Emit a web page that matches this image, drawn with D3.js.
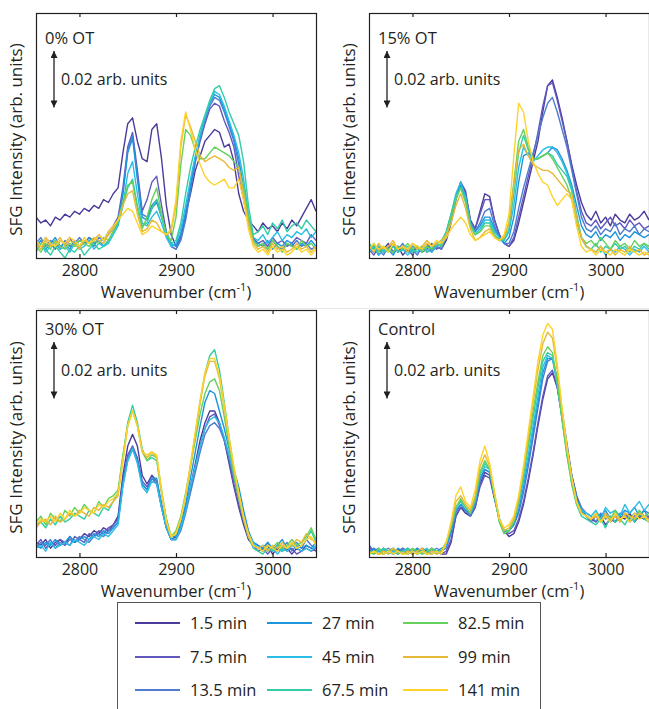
<!DOCTYPE html>
<html>
<head>
<meta charset="utf-8">
<script src="https://cdn.jsdelivr.net/npm/d3@7"></script>
<style>
  body { margin: 0; background: #fff; }
  svg { display: block; }
  text { font-family: "Open Sans", sans-serif; fill: #231f20; }
</style>
</head>
<body>
<script>
// x grid of the spectra (cm-1)
const wavenumbers = [2755,2760,2765,2770,2775,2780,2785,2790,2795,2800,2805,2810,2815,2820,2825,2830,2835,2840,
  2845,2850,2855,2860,2865,2870,2875,2880,2885,2890,2895,2900,2905,2910,2915,2920,2925,2930,2935,2940,2945,2950,
  2955,2960,2965,2970,2975,2980,2985,2990,2995,3000,3005,3010,3015,3020,3025,3030,3035,3040,3045];

const times = ["1.5 min", "7.5 min", "13.5 min", "27 min", "45 min", "67.5 min", "82.5 min", "99 min", "141 min"];
const colors = ["#4b3b9c", "#6158bd", "#4f7ccf", "#1d95dc", "#2bbde6", "#33cca6", "#66d15c", "#e6b938", "#fdd32b"];
const xTicks = [2800, 2900, 3000];
const panelNames = ["0% OT", "15% OT", "30% OT", "Control"];
const scaleBar = 20; // 0.02 arb. units, values below are in 1e-3 arb. units

// SFG intensity (1e-3 arb. units), one row per time
const ot0 = [
  [14,12,13,11,14,13,15,14,16,15,17,16,18,17,20,19,22,24, 36,46,48,40,34,33,44,46,34,18,8,4,8,15,22,30,35,40,42,44,43,38,39,33,22,16,13,11, 9,12,10,11,9,12,10,13,11,14,17,20,16],
  [6,4,7,5,3,6,5,7,4,6,5,7,6,8,6,9,11,14, 24,38,43,30,16,20,26,28,18,9,4,3,7,14,24,33,40,46,51,53,52,47,43,38,28,20,12,7, 5,6,4,7,5,6,4,5,7,6,5,8,6],
  [5,7,4,6,5,3,6,4,5,7,5,6,4,7,6,8,10,13, 22,37,42,28,15,14,18,20,15,8,4,3,6,13,23,33,41,47,52,55,54,50,45,40,32,22,12,6, 4,5,3,6,4,3,5,4,6,4,5,3,4],
  [4,6,3,5,7,4,5,3,6,4,5,7,5,6,4,6,9,12, 22,36,41,27,14,13,17,19,14,9,5,4,8,16,25,34,42,48,53,56,55,51,46,41,34,24,13,6, 5,4,6,3,5,4,6,5,3,5,4,6,4],
  [3,5,2,4,6,3,4,2,5,3,4,6,3,5,4,5,8,11, 18,29,33,22,12,11,14,16,12,7,4,5,10,18,27,35,42,48,53,57,56,52,47,42,36,27,15,7, 6,8,5,7,9,6,8,7,9,8,10,7,9],
  [2,5,3,1,4,2,0,3,2,4,1,3,5,3,4,6,9,12, 18,24,27,18,11,12,17,20,14,8,5,6,12,22,31,38,44,49,54,58,59,55,50,46,42,33,18,8, 9,11,8,12,10,13,9,11,12,10,13,11,9],
  [4,2,5,3,6,4,3,5,4,6,5,4,6,5,7,6,9,13, 19,25,26,17,10,14,20,24,15,8,6,14,32,44,42,37,34,34,36,38,37,36,35,33,31,24,14,6, 4,5,3,6,4,2,5,4,3,6,4,5,3],
  [5,3,6,4,5,7,4,6,5,3,6,5,7,6,5,8,10,13, 18,22,23,15,9,10,13,12,9,8,9,18,38,49,45,40,35,33,34,35,34,33,31,30,31,22,12,5, 3,4,2,5,3,4,2,3,5,3,4,2,4],
  [6,4,7,5,4,6,5,7,6,4,7,5,6,8,6,9,11,13, 15,17,16,12,8,9,11,10,9,8,10,20,40,50,44,37,32,28,26,25,26,27,24,24,27,20,10,4, 2,3,1,4,2,3,1,2,4,2,3,1,3]
];

const ot15 = [
  [2,4,1,3,5,2,4,1,3,2,4,3,5,2,4,3, 6,12,20,26,22,13,10,16,22,21,13,8,5,4,6,12,19,26,33,40,50,59,61,55,48,40,32,25,19,15, 13,16,12,14,11,15,13,12,15,13,14,16,13],
  [3,1,4,2,3,5,2,4,3,1,4,2,3,5,3,4, 7,13,21,26,23,13,10,15,20,20,13,8,5,4,7,14,21,28,35,43,52,59,60,54,47,40,31,23,16,12, 11,13,10,12,14,11,12,10,13,11,12,10,11],
  [2,4,3,1,4,2,3,5,2,3,1,4,2,3,4,3, 7,13,20,25,21,12,9,12,16,17,11,7,5,5,9,17,24,30,36,42,48,53,55,50,44,38,30,22,14,10, 9,11,8,10,9,12,8,10,9,11,8,10,9],
  [3,2,4,2,3,1,4,3,2,4,3,2,4,3,5,4, 8,14,21,25,21,12,9,11,14,14,10,7,5,7,14,26,35,36,34,34,35,36,38,37,34,30,25,18,11,8, 7,9,6,8,7,9,6,8,7,9,8,7,8],
  [2,4,1,3,2,4,2,3,1,3,2,4,3,2,4,5, 9,15,22,26,21,12,8,10,13,13,9,7,6,9,18,31,38,35,33,35,37,38,38,36,33,29,24,15,7,4, 3,2,4,1,3,2,4,3,1,3,2,4,2],
  [5,3,4,2,3,4,2,3,4,2,3,4,2,4,5,6, 9,15,21,24,20,11,8,9,12,12,8,6,6,10,22,36,42,37,34,34,35,36,35,32,30,28,23,14,7,4, 3,5,2,4,3,5,3,4,2,4,3,5,3],
  [3,5,2,4,3,2,4,3,5,3,4,2,4,3,5,4, 8,14,20,24,19,11,8,9,11,11,8,6,7,12,26,40,44,38,34,34,35,36,34,31,28,25,20,12,7,5, 6,4,7,5,3,6,4,5,3,6,4,5,4],
  [4,2,5,3,4,6,3,4,2,5,3,4,6,4,5,6, 8,12,18,22,17,10,6,7,9,10,7,6,7,12,25,37,39,35,32,31,30,30,29,27,25,23,22,14,7,4, 3,2,4,2,3,1,3,2,4,2,3,1,2],
  [3,5,3,4,2,5,3,4,3,5,4,3,5,4,6,5, 7,10,12,14,12,8,6,7,8,9,7,6,8,15,35,53,50,40,33,29,26,25,21,18,20,22,20,11,4,2, 3,1,3,2,1,3,2,1,3,2,1,2,1]
];

const ot30 = [
  [5,4,6,3,5,6,4,7,5,6,8,7,9,8,10,9,11,14, 28,38,42,38,28,25,28,26,18,10,6,7,11,17,24,32,40,46,50,50,46,40,32,24,17,11,6,4, 3,2,4,1,3,2,3,1,3,2,4,3,2],
  [4,6,3,5,4,6,5,4,7,6,5,8,7,9,8,10,11,13, 26,35,38,34,26,24,27,25,17,10,6,6,10,16,23,31,38,44,48,49,45,40,33,25,18,12,7,4, 2,3,1,3,2,4,2,3,1,2,3,2,3],
  [3,5,4,6,3,5,4,6,5,7,6,5,7,8,7,9,10,12, 25,34,38,33,25,23,27,26,17,10,6,6,9,15,22,29,36,42,45,46,44,40,34,27,20,13,8,5, 4,3,5,2,4,3,5,2,4,3,6,4,3],
  [4,3,5,4,6,4,5,7,5,6,7,6,8,7,9,8,10,12, 25,33,37,33,25,23,27,27,18,11,7,7,11,18,27,36,45,53,57,56,50,44,37,30,24,16,9,5, 4,3,5,3,4,6,3,4,5,3,4,3,5],
  [3,4,2,5,3,4,5,4,6,5,4,6,7,6,8,7,9,11, 24,33,37,32,24,22,26,25,17,10,6,6,10,16,24,31,38,44,47,48,46,41,35,28,21,14,8,5, 3,4,2,3,1,3,2,4,3,2,3,2,4],
  [11,12,10,13,11,14,12,13,15,14,13,16,15,14,17,16,19,22, 34,46,52,46,37,33,34,33,22,13,7,8,13,21,31,42,53,63,69,71,64,53,41,30,21,13,7,3, 2,1,3,2,4,2,3,5,3,4,6,9,5],
  [12,14,11,15,13,12,16,14,17,15,18,16,15,19,17,20,21,23, 35,45,50,45,36,33,35,34,23,13,7,9,14,22,31,40,49,56,60,61,57,48,38,28,20,13,7,4, 3,2,4,3,5,3,4,6,4,5,7,10,6],
  [10,12,13,11,14,12,13,15,14,16,15,14,17,16,18,17,19,21, 33,45,50,45,36,34,36,34,22,12,7,8,13,21,31,42,53,62,67,67,61,51,40,30,21,13,7,4, 3,4,2,4,3,5,3,4,6,5,8,6,5],
  [11,13,12,14,12,15,13,16,14,15,17,16,15,18,17,19,20,22, 33,45,50,45,36,35,36,35,23,12,7,8,13,21,32,43,54,63,68,68,62,52,41,31,22,14,8,4, 3,2,4,3,2,4,3,5,3,4,6,7,4]
];

const control = [
  [3,2,1,3,2,1,2,3,1,2,1,3,2,1,2,1, 1,5,14,17,15,14,17,25,29,28,20,13,9,7,8,12,18,26,35,45,54,61,63,58,48,38,28,21,16,14, 13,12,14,11,13,12,14,13,15,12,14,13,14],
  [4,2,3,1,2,3,1,2,3,1,2,2,1,3,2,1, 2,6,14,17,16,14,17,24,28,27,20,13,9,8,9,13,19,27,36,46,55,62,64,58,48,37,27,20,16,14, 12,14,13,15,12,14,13,15,12,14,15,13,14],
  [2,3,1,2,3,2,1,3,2,1,3,2,1,2,3,2, 3,8,15,18,16,14,18,26,30,29,21,13,9,9,11,15,22,31,41,51,61,67,68,61,50,39,28,21,17,15, 14,12,15,13,14,12,15,14,13,15,14,16,13],
  [1,3,2,1,2,1,3,2,1,2,3,1,2,1,2,3, 4,9,16,18,16,15,19,27,30,29,21,13,9,9,11,16,24,33,43,53,63,68,68,60,49,38,27,20,16,14, 13,15,14,16,13,15,14,16,15,17,14,16,15],
  [2,1,2,3,1,2,1,2,3,2,1,2,3,1,2,2, 4,10,17,19,17,15,19,28,31,30,21,13,9,9,12,18,26,35,45,55,65,69,68,59,47,36,26,19,16,15, 14,16,13,17,15,16,14,18,15,17,19,16,18],
  [1,2,1,3,2,1,2,1,3,2,1,2,1,3,2,2, 5,10,17,19,17,15,20,29,32,30,21,12,8,9,12,19,28,38,48,58,67,70,69,60,47,35,25,18,14,13, 12,11,13,10,14,12,13,11,14,12,15,13,12],
  [2,1,3,1,2,3,1,2,1,3,2,1,2,3,1,2, 5,10,17,20,17,15,20,29,33,30,21,12,8,9,12,19,29,39,50,60,69,72,70,60,47,35,25,18,15,14, 13,15,12,14,13,16,12,15,14,13,16,14,15],
  [1,2,1,2,1,3,2,1,2,1,2,3,1,2,1,2, 5,11,19,21,18,16,21,31,35,31,22,13,9,10,13,20,30,41,53,64,73,77,75,64,50,37,27,19,15,14, 13,14,12,15,13,14,12,15,14,13,15,14,13],
  [1,2,1,1,2,1,2,1,1,2,1,2,1,1,2,1, 5,12,21,24,19,17,23,33,38,32,22,13,10,11,14,21,31,43,55,67,76,80,78,66,51,38,27,19,15,14, 13,15,12,14,12,15,13,14,12,15,13,14,12]
];

const width = 649, height = 709;
const pxPerUnit = 2.92;

const svg = d3.select("body").append("svg")
  .attr("width", width)
  .attr("height", height);

// faint rule between the two rows
svg.append("line")
  .attr("x1", 36).attr("x2", width)
  .attr("y1", 308.5).attr("y2", 308.5)
  .attr("stroke", "#e8e8e8");

const panels = [
  {name: panelNames[0], data: ot0, left: 36, top: 13, bottom: 258, row: 0},
  {name: panelNames[1], data: ot15, left: 369, top: 13, bottom: 258, row: 0},
  {name: panelNames[2], data: ot30, left: 36, top: 310, bottom: 557, row: 1},
  {name: panelNames[3], data: control, left: 369, top: 310, bottom: 557, row: 1}
];

svg.append("defs").append("marker")
  .attr("id", "head")
  .attr("viewBox", "0 0 10 10")
  .attr("refX", 10).attr("refY", 5)
  .attr("markerWidth", 7).attr("markerHeight", 7)
  .attr("markerUnits", "userSpaceOnUse")
  .attr("orient", "auto-start-reverse")
  .append("path")
  .attr("d", "M0,0 L10,5 L0,10 Z")
  .attr("fill", "#231f20");

panels.forEach(function(p, k) {
  const right = p.left + 280;
  const x = d3.scaleLinear().domain([2755, 3045]).range([p.left, right]);
  const y = d3.scaleLinear().domain([0, (p.bottom - p.top) / pxPerUnit]).range([p.bottom, p.top]);

  const g = svg.append("g");

  g.append("clipPath").attr("id", "clip" + k)
    .append("rect")
    .attr("x", p.left).attr("y", p.top)
    .attr("width", right - p.left).attr("height", p.bottom - p.top);

  const line = d3.line()
    .x((d, i) => x(wavenumbers[i]))
    .y(d => y(d));

  g.append("g")
    .attr("clip-path", "url(#clip" + k + ")")
    .selectAll("path")
    .data(p.data)
    .join("path")
    .attr("d", line)
    .attr("fill", "none")
    .attr("stroke", (d, i) => colors[i])
    .attr("stroke-width", 1.4)
    .attr("stroke-linejoin", "round");

  // frame
  g.append("rect")
    .attr("x", p.left + 0.5).attr("y", p.top + 0.5)
    .attr("width", right - p.left).attr("height", p.bottom - p.top)
    .attr("fill", "none")
    .attr("stroke", "#231f20")
    .attr("stroke-width", 1.2);

  const bottomAxis = g.append("g")
    .attr("transform", "translate(0," + p.bottom + ")")
    .call(d3.axisBottom(x).tickValues(xTicks).tickSize(-4).tickPadding(7).tickFormat(d3.format("d")));
  bottomAxis.select(".domain").remove();
  bottomAxis.selectAll("line").attr("stroke", "#231f20").attr("stroke-width", 1.2);
  bottomAxis.selectAll("text").attr("font-size", 16).attr("fill", "#231f20")
    .style("font-family", "'Open Sans', sans-serif");

  const topAxis = g.append("g")
    .attr("transform", "translate(0," + p.top + ")")
    .call(d3.axisTop(x).tickValues(xTicks).tickSize(-4).tickFormat(""));
  topAxis.select(".domain").remove();
  topAxis.selectAll("line").attr("stroke", "#231f20").attr("stroke-width", 1.2);

  // axis titles
  const xt = g.append("text")
    .attr("x", (p.left + right) / 2)
    .attr("y", p.bottom + 40)
    .attr("text-anchor", "middle")
    .attr("font-size", 16.5);
  xt.append("tspan").text("Wavenumber (cm");
  xt.append("tspan").text("-1").attr("font-size", 11).attr("dy", -7);
  xt.append("tspan").text(")").attr("dy", 7);

  g.append("text")
    .attr("transform", "translate(" + (p.left - 14) + "," + ((p.top + p.bottom) / 2 + 4) + ") rotate(-90)")
    .attr("text-anchor", "middle")
    .attr("font-size", 17)
    .text("SFG Intensity (arb. units)");

  // panel label and scale bar
  const labelY = p.top + (p.row === 0 ? 31 : 25);
  g.append("text")
    .attr("x", p.left + 9).attr("y", labelY)
    .attr("font-size", 16.5)
    .text(p.name);

  const arrowX = p.left + 18;
  const y0 = labelY + 6;
  const y1 = y0 + (y(0) - y(scaleBar));
  g.append("line")
    .attr("x1", arrowX).attr("x2", arrowX)
    .attr("y1", y0 + 1).attr("y2", y1 - 1)
    .attr("stroke", "#231f20").attr("stroke-width", 1.3)
    .attr("marker-start", "url(#head)")
    .attr("marker-end", "url(#head)");
  g.append("text")
    .attr("x", arrowX + 7).attr("y", (y0 + y1) / 2 + 6)
    .attr("font-size", 16)
    .text((scaleBar / 1000).toFixed(2) + " arb. units");
});

// legend
const legend = svg.append("g");
legend.append("rect")
  .attr("x", 117.5).attr("y", 602.5)
  .attr("width", 423).attr("height", 130)
  .attr("fill", "none").attr("stroke", "#555").attr("stroke-width", 1);

const colX = [135, 267, 403];
const rowY = [623, 657, 690];
const item = legend.selectAll("g.item")
  .data(times)
  .join("g")
  .attr("class", "item")
  .attr("transform", (d, i) => "translate(" + colX[Math.floor(i / 3)] + "," + rowY[i % 3] + ")");
item.append("line")
  .attr("x1", 0).attr("x2", 45)
  .attr("stroke", (d, i) => colors[i])
  .attr("stroke-width", 1.8);
item.append("text")
  .attr("x", 55).attr("y", 6)
  .attr("font-size", 16.5)
  .text(d => d);
</script>
</body>
</html>
